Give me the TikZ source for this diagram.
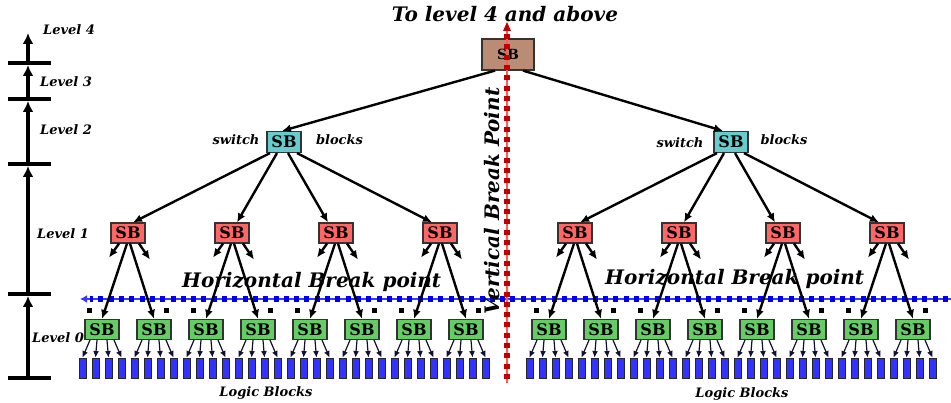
\documentclass[tikz,border=0pt]{standalone}
\usepackage{fontspec}
\newfontfamily\lblfont{DejaVu Serif}
\usetikzlibrary{arrows.meta,calc}
\definecolor{sbbrown}{HTML}{B98C73}
\definecolor{sbcyan}{HTML}{66CCCC}
\definecolor{sbred}{HTML}{FF6666}
\definecolor{sbgreen}{HTML}{66CC66}
\definecolor{lbblue}{HTML}{3333FF}
\definecolor{navyline}{HTML}{101030}
\definecolor{redthin}{HTML}{FF5A5A}
\definecolor{reddot}{HTML}{C00000}
\definecolor{bluethin}{HTML}{3838FF}
\definecolor{bluedot}{HTML}{0000F0}
\begin{document}
\begin{tikzpicture}[x=1pt,y=-1pt,
  sbbox/.style={draw=black!80, line width=1.2pt, inner sep=0pt,
    font=\lblfont\fontsize{16}{16}\bfseries\selectfont, minimum width=34pt, minimum height=20pt},
  lzero/.style={sbbox, fill=sbgreen},
  lone/.style={sbbox, fill=sbred},
  ltwo/.style={sbbox, fill=sbcyan, minimum height=21pt},
  topsb/.style={sbbox, fill=sbbrown, minimum width=52pt, minimum height=31pt,
    font=\lblfont\fontsize{14}{14}\bfseries\selectfont},
  lblock/.style={draw=black!85, fill=lbblue, line width=0.8pt, minimum width=7pt,
    minimum height=20pt, inner sep=0pt},
  sq/.style={fill=black, minimum size=5pt, inner sep=0pt},
  conn/.style={line width=2.4pt, -{Latex[length=9pt,width=8pt]}},
  smallarr/.style={line width=1.2pt, draw=navyline, -{Latex[length=6.5pt,width=6pt]}},
  lbl/.style={font=\lblfont\fontsize{13}{13}\bfseries\itshape\selectfont, inner sep=0pt},
  bigtxt/.style={font=\lblfont\fontsize{20}{20}\bfseries\itshape\selectfont, inner sep=0pt},
  axisarr/.style={line width=4pt, -{Latex[length=11pt,width=11pt]}},
  tick/.style={line width=4pt},
]
\useasboundingbox (0,0) rectangle (951,403);

% ---------- level 0 switch blocks and logic blocks
\foreach \k in {1,...,16}{
  \pgfmathsetmacro\xx{\k<9 ? 102+52*(\k-1) : 549+52*(\k-9)}
  \node[lzero] (z\k) at (\xx,329.5) {SB};
  \foreach \m/\o in {1/-19.5,2/-6.5,3/6.5,4/19.5}{
    \node[lblock] (b\k-\m) at ($(z\k.center)+(\o,38.5)$) {};
  }
}
% small squares
\foreach \j in {1,...,8}{
  \pgfmathtruncatemacro\a{2*\j-1}
  \pgfmathtruncatemacro\b{2*\j}
  \node[sq] (qa\j) at ($(z\a.center)+(-13,-18.5)$) {};
  \node[sq] (qb\j) at ($(z\b.center)+(12,-18.5)$) {};
}

% ---------- level 1
\foreach \j in {1,...,8}{
  \pgfmathsetmacro\xx{\j<5 ? 128+104*(\j-1) : 575+104*(\j-5)}
  \node[lone] (o\j) at (\xx,233) {SB};
}
% ---------- level 2 and top
\node[ltwo] (t1) at (284,142) {SB};
\node[ltwo] (t2) at (731,142) {SB};
\node[topsb] (top) at (508,54.5) {SB};

% ---------- break lines
\draw[bluethin, line width=1.5pt, -{Latex[length=7pt,width=8pt]}] (951,299) -- (80,299);
\draw[bluedot, line width=6pt, dash pattern=on 5pt off 5.3pt] (948,299) -- (90,299);
\draw[redthin, line width=2pt] (507,383) -- (507,30);
\draw[reddot, line width=6.5pt, dash pattern=on 5pt off 5.3pt] (507,379) -- (507,32);
\fill[reddot] (507,22) -- (511,31) -- (503,31) -- cycle;

% ---------- connectors
\draw[conn] ($(top.south)+(-13,0)$) -- ($(t1.north)+(-2,0)$);
\draw[conn] ($(top.south)+(15,0)$) -- ($(t2.north)+(-8,0)$);
\foreach \t/\base in {1/0,2/4}{
  \foreach \i/\so/\eo in {1/-14/5,2/-7/5,3/4/-8,4/13/-8}{
    \pgfmathtruncatemacro\c{\base+\i}
    \draw[conn] ($(t\t.south)+(\so,0)$) -- ($(o\c.north)+(\eo,0)$);
  }
}
\foreach \j in {1,...,8}{
  \pgfmathtruncatemacro\a{2*\j-1}
  \pgfmathtruncatemacro\b{2*\j}
  \draw[conn] ($(o\j.south)+(-1,0)$) -- (z\a.north);
  \draw[conn] ($(o\j.south)+(2,0)$) -- (z\b.north);
  \coordinate (dl\j) at ($(o\j.south)+(-19,14)$);
  \coordinate (dr\j) at ($(o\j.south)+(22,16)$);
  \draw[conn] ($(o\j.south)+(-9,0)$) -- (dl\j);
  \draw[conn] ($(o\j.south)+(11,0)$) -- (dr\j);
}
\foreach \k in {1,...,16}{
  \foreach \m/\s in {1/-12,2/-5,3/5,4/12}{
    \draw[smallarr] ($(z\k.south)+(\s,0)$) -- (b\k-\m.north);
  }
}

% ---------- level axis
\draw[axisarr] (28,378) -- (28,296);
\draw[axisarr] (28,294) -- (28,166);
\draw[axisarr] (28,164) -- (28,101);
\draw[axisarr] (28,99) -- (28,65);
\draw[axisarr] (28,63) -- (28,33);
\foreach \y in {63,99,164,294,378}{
  \draw[tick] (8,\y) -- (51,\y);
}

% ---------- texts
\node[lbl, anchor=base west] (lv4) at (43,35) {Level 4};
\node[lbl, anchor=base west] (lv3) at (40,87) {Level 3};
\node[lbl, anchor=base west] (lv2) at (40,135) {Level 2};
\node[lbl, anchor=base west] (lv1) at (37,239) {Level 1};
\node[lbl, anchor=base west] (lv0) at (32,343) {Level 0};
\node[lbl, anchor=base] (sw1) at (236,145) {switch};
\node[lbl, anchor=base] (bk1) at (339.5,145) {blocks};
\node[lbl, anchor=base] (sw2) at (680,148) {switch};
\node[lbl, anchor=base] (bk2) at (784,145) {blocks};
\node[lbl, anchor=base] (lg1) at (266,396) {Logic Blocks};
\node[lbl, anchor=base] (lg2) at (742,398) {Logic Blocks};
\node[bigtxt, anchor=base] (title) at (505,22) {To level 4 and above};
\node[bigtxt, anchor=base west] (hz1) at (182,288) {Horizontal Break point};
\node[bigtxt, anchor=base west] (hz2) at (605,285) {Horizontal Break point};
\node[bigtxt, anchor=base, rotate=90] (vt) at (499,201) {Vertical Break Point};
\end{tikzpicture}
\end{document}
